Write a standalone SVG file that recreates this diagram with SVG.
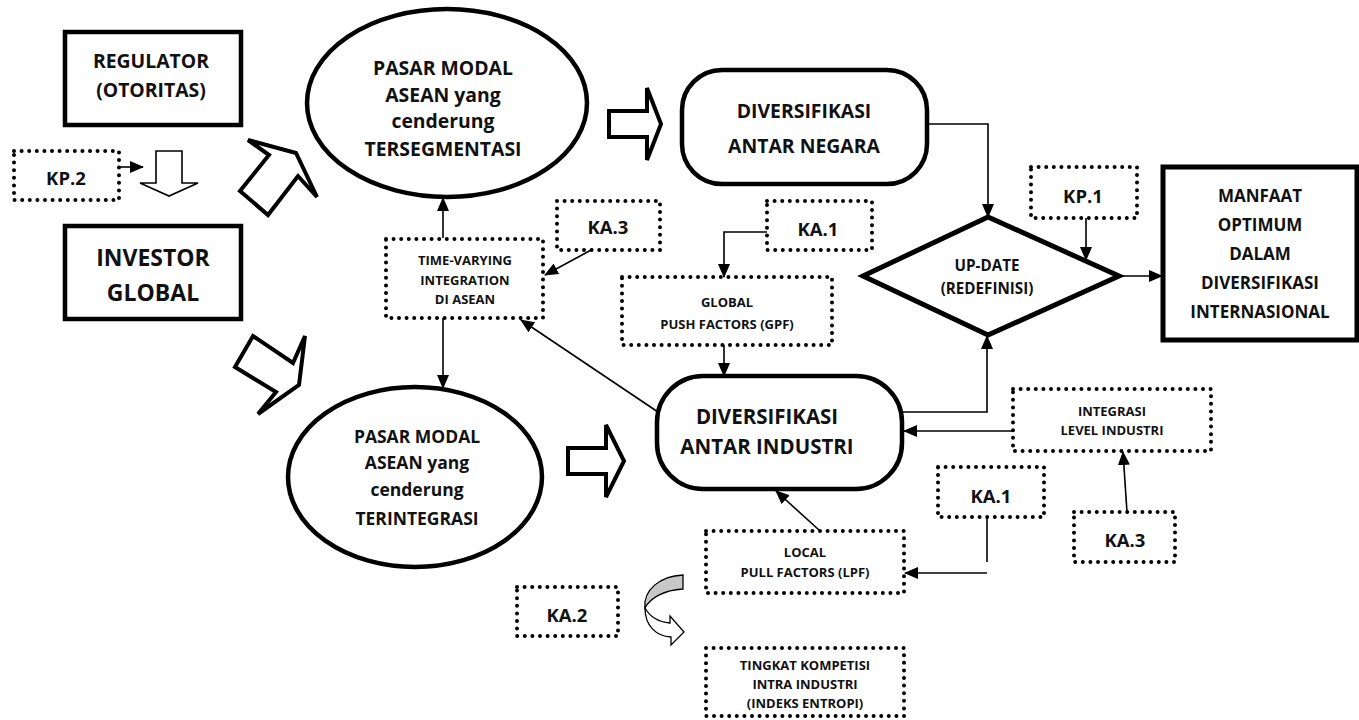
<svg xmlns="http://www.w3.org/2000/svg" width="1359" height="720" viewBox="0 0 1359 720">
  <style>
    text { font-family: "Open Sans", "Liberation Sans", sans-serif; font-weight: 700; fill: #111; text-anchor: middle; }
    .box { fill: #fff; stroke: #000; stroke-width: 4.5; }
    .thick { fill: #fff; stroke: #000; stroke-width: 5; }
    .dot { fill: none; stroke: #000; stroke-width: 4; stroke-dasharray: 0 7.6; stroke-linecap: round; }
    .blk { fill: #fff; stroke: #000; stroke-width: 4; stroke-linejoin: miter; }
    .blkThin { fill: #fff; stroke: #000; stroke-width: 1.6; }
    .conn { fill: none; stroke: #000; stroke-width: 1.6; }
    .arr { marker-end: url(#head); }
    .t14 { font-size: 13px; }
    .t16 { font-size: 15.2px; }
    .t18 { font-size: 17px; }
    .t19 { font-size: 17.5px; }
    .t20 { font-size: 18.5px; }
    .t21 { font-size: 19.4px; }
    .t22 { font-size: 20.5px; }
    .t25 { font-size: 23px; }
  </style>
  <defs>
    <marker id="head" markerUnits="userSpaceOnUse" markerWidth="14" markerHeight="12" refX="13" refY="6" orient="auto">
      <path d="M0,0 L14,6 L0,12 Z" fill="#000"/>
    </marker>
  </defs>

  <!-- left column -->
  <g id="regulator">
    <rect class="box" x="65" y="32" width="176" height="93"/>
    <text class="t21" x="151" y="68">REGULATOR</text>
    <text class="t21" x="151" y="97">(OTORITAS)</text>
  </g>
  <g id="kp2">
    <rect class="dot" x="14" y="151" width="105" height="49"/>
    <text class="t20" x="66" y="185">KP.2</text>
  </g>
  <g id="investor">
    <rect class="box" x="65" y="226" width="176" height="93"/>
    <text class="t25" x="153" y="266">INVESTOR</text>
    <text class="t25" x="153" y="301">GLOBAL</text>
  </g>

  <!-- block arrows -->
  <g id="block-arrows">
    <polygon class="blkThin" points="156,151 182,151 182,183 198,183 169,196 140,183 156,183"/>
    <polygon class="blk" points="240,191 269,155 248,140 296,153 317,197 298,176 268,215"/>
    <polygon class="blk" points="235,367 253,336 293,363 305,336 299,385 258,414 276,392"/>
    <polygon class="blk" points="609,111 647,111 647,88 661,124 647,160 647,137 609,137"/>
    <polygon class="blk" points="568,448 606,448 606,425 624,461 606,497 606,474 568,474"/>
  </g>

  <!-- markets -->
  <g id="pasar-tersegmentasi">
    <ellipse class="box" cx="447" cy="103" rx="140" ry="94"/>
    <text class="t21" x="443" y="75">PASAR MODAL</text>
    <text class="t21" x="443" y="102">ASEAN yang</text>
    <text class="t21" x="443" y="128">cenderung</text>
    <text class="t21" x="443" y="156">TERSEGMENTASI</text>
  </g>
  <g id="pasar-terintegrasi">
    <ellipse class="box" cx="415" cy="477" rx="127" ry="90"/>
    <text class="t19" x="417" y="443">PASAR MODAL</text>
    <text class="t19" x="417" y="469">ASEAN yang</text>
    <text class="t19" x="417" y="496">cenderung</text>
    <text class="t19" x="417" y="525">TERINTEGRASI</text>
  </g>

  <!-- integration factors -->
  <g id="time-varying">
    <rect class="dot" x="386" y="239" width="157" height="79"/>
    <text class="t14" x="465" y="265">TIME-VARYING</text>
    <text class="t14" x="465" y="285">INTEGRATION</text>
    <text class="t14" x="465" y="304">DI ASEAN</text>
  </g>
  <g id="ka3-top">
    <rect class="dot" x="557" y="201" width="103" height="49"/>
    <text class="t20" x="608" y="234">KA.3</text>
  </g>
  <g id="ka1-top">
    <rect class="dot" x="767" y="201" width="105" height="49"/>
    <text class="t20" x="818" y="236">KA.1</text>
  </g>
  <g id="gpf">
    <rect class="dot" x="622" y="277" width="210" height="68"/>
    <text class="t14" x="727" y="307">GLOBAL</text>
    <text class="t14" x="727" y="329">PUSH FACTORS (GPF)</text>
  </g>

  <!-- diversification -->
  <g id="div-negara">
    <rect class="box" x="682" y="70" width="245" height="114" rx="40" ry="40"/>
    <text class="t21" x="804" y="118">DIVERSIFIKASI</text>
    <text class="t21" x="804" y="153">ANTAR NEGARA</text>
  </g>
  <g id="div-industri">
    <rect class="box" x="657" y="376" width="245" height="113" rx="46" ry="46"/>
    <text class="t22" x="767" y="424">DIVERSIFIKASI</text>
    <text class="t22" x="767" y="454">ANTAR INDUSTRI</text>
  </g>

  <!-- decision -->
  <g id="update">
    <polygon class="thick" points="863,276 988,217 1119,276 988,335"/>
    <text class="t16" x="987" y="271">UP-DATE</text>
    <text class="t16" x="987" y="294">(REDEFINISI)</text>
  </g>
  <g id="kp1">
    <rect class="dot" x="1031" y="167" width="106" height="51"/>
    <text class="t20" x="1083" y="203">KP.1</text>
  </g>
  <g id="manfaat">
    <rect class="thick" x="1163" y="167" width="194" height="173"/>
    <text class="t18" x="1260" y="202">MANFAAT</text>
    <text class="t18" x="1260" y="231">OPTIMUM</text>
    <text class="t18" x="1260" y="260">DALAM</text>
    <text class="t18" x="1260" y="289">DIVERSIFIKASI</text>
    <text class="t18" x="1260" y="318">INTERNASIONAL</text>
  </g>

  <!-- industry level factors -->
  <g id="integrasi-industri">
    <rect class="dot" x="1013" y="389" width="198" height="62"/>
    <text class="t14" x="1112" y="416">INTEGRASI</text>
    <text class="t14" x="1112" y="435">LEVEL INDUSTRI</text>
  </g>
  <g id="ka1-bottom">
    <rect class="dot" x="938" y="467" width="106" height="50"/>
    <text class="t20" x="991" y="503">KA.1</text>
  </g>
  <g id="ka3-bottom">
    <rect class="dot" x="1074" y="512" width="101" height="50"/>
    <text class="t20" x="1125" y="547">KA.3</text>
  </g>
  <g id="lpf">
    <rect class="dot" x="706" y="531" width="198" height="62"/>
    <text class="t14" x="805" y="557">LOCAL</text>
    <text class="t14" x="805" y="577">PULL FACTORS (LPF)</text>
  </g>
  <g id="ka2">
    <rect class="dot" x="517" y="587" width="101" height="49"/>
    <text class="t20" x="567" y="622">KA.2</text>
  </g>
  <g id="kompetisi">
    <rect class="dot" x="706" y="648" width="198" height="68"/>
    <text class="t14" x="805" y="670">TINGKAT KOMPETISI</text>
    <text class="t14" x="805" y="689">INTRA INDUSTRI</text>
    <text class="t14" x="805" y="708">(INDEKS ENTROPI)</text>
  </g>

  <!-- curved arrow from KA.2 -->
  <g id="curved-arrow">
    <path d="M683,575 L683,589 C664,590 650,598 645,608 C643,590 660,576 683,575 Z" fill="#c8c8c8" stroke="#000" stroke-width="1.3"/>
    <path d="M645,608 C650,617 659,622 670,623 L670,616 L684,632 L671,645 L671,637 C656,636 645,626 645,608 Z" fill="#fff" stroke="#000" stroke-width="1.3"/>
  </g>

  <!-- connectors -->
  <g id="connectors">
    <path class="conn arr" d="M119,167 H143"/>
    <path class="conn arr" d="M927,124 H988 V217"/>
    <path class="conn arr" d="M1086,218 V260"/>
    <path class="conn arr" d="M1119,276 H1162"/>
    <path class="conn arr" d="M902,412 H987 V336"/>
    <path class="conn arr" d="M1013,431 H904"/>
    <path class="conn arr" d="M1127,512 L1123,452"/>
    <path class="conn" d="M987,517 V562"/>
    <path class="conn arr" d="M987,573 H905"/>
    <path class="conn arr" d="M819,530 L776,491"/>
    <path class="conn arr" d="M724,345 V376"/>
    <path class="conn arr" d="M767,232 H724 V277"/>
    <path class="conn arr" d="M593,249 L545,275"/>
    <path class="conn arr" d="M443,238 V198"/>
    <path class="conn arr" d="M443,318 V388"/>
    <path class="conn arr" d="M658,412 L521,320"/>
  </g>
</svg>
